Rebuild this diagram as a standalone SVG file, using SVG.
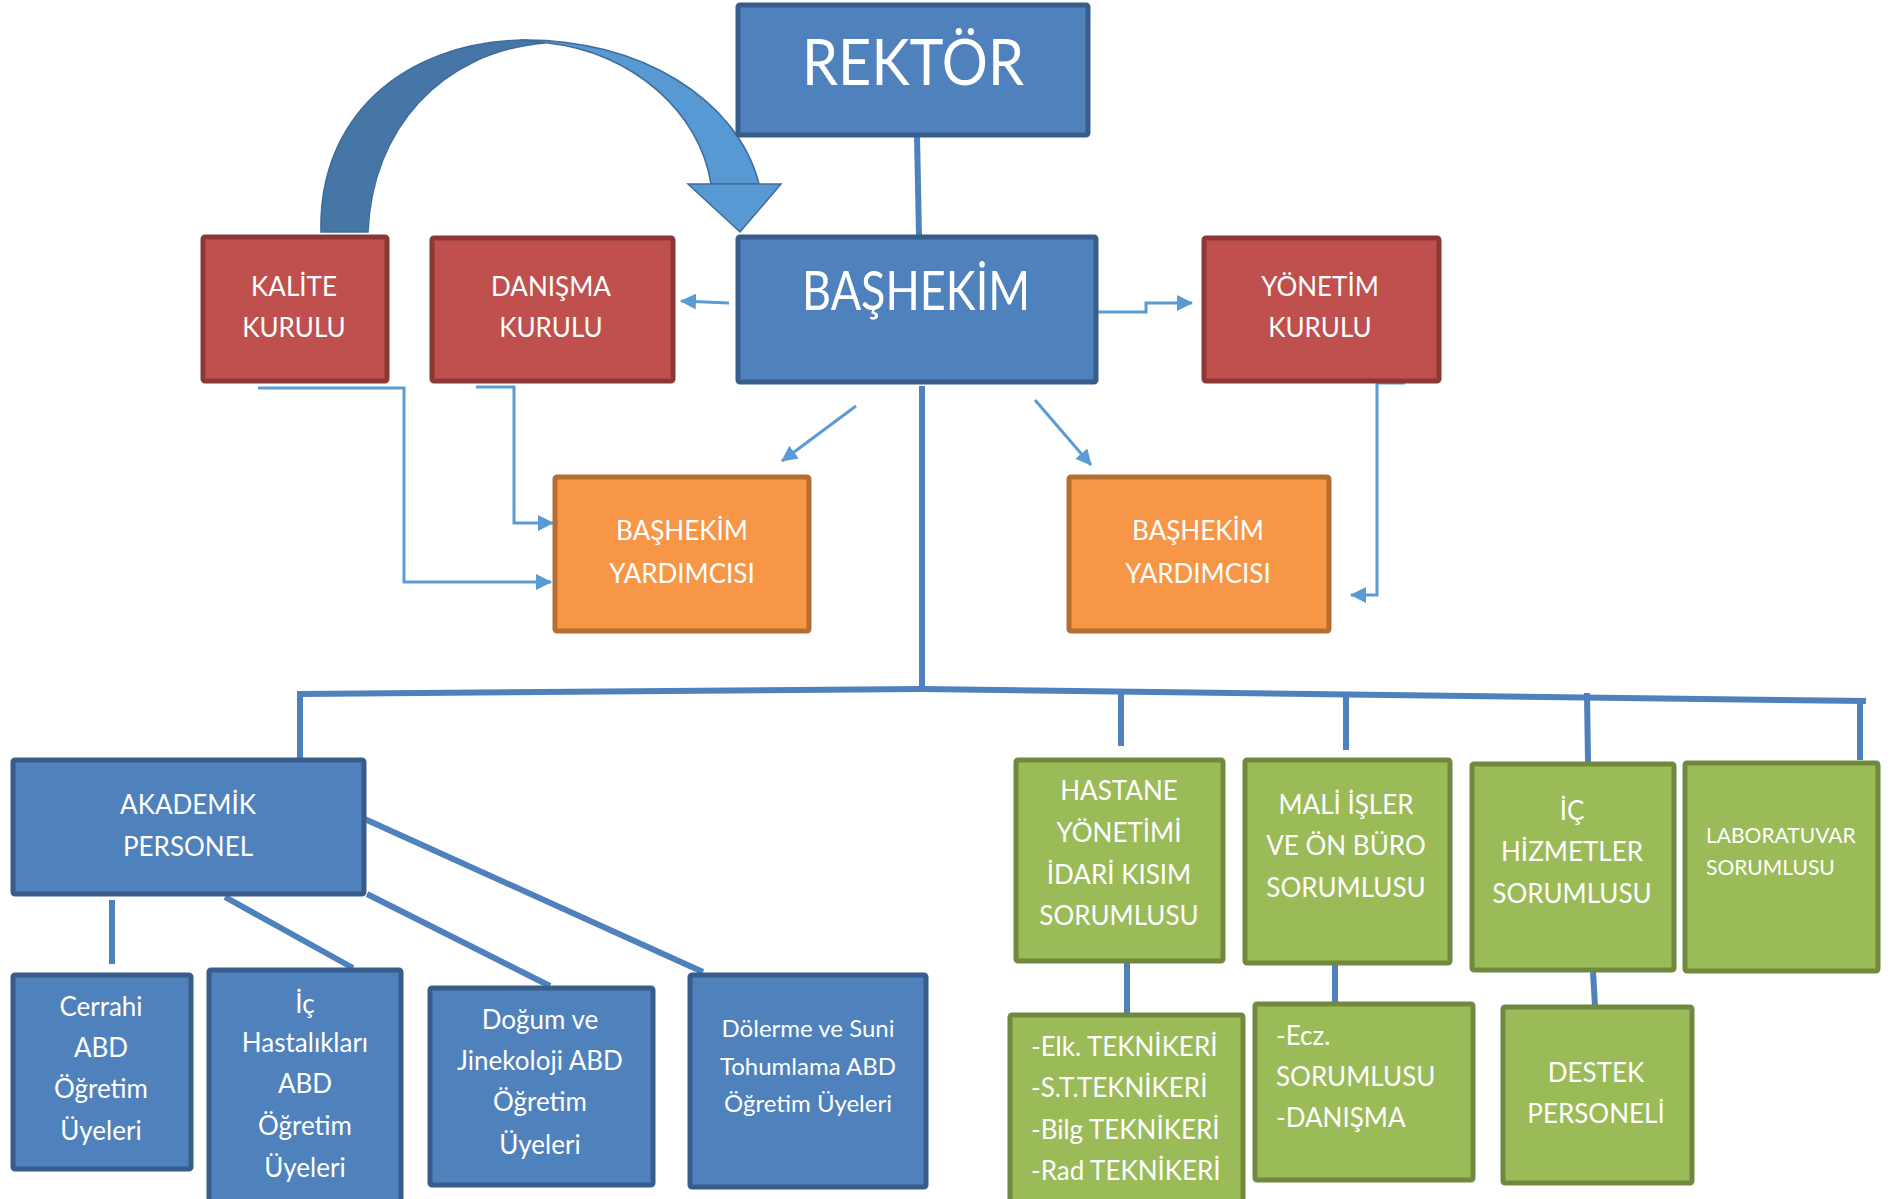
<svg xmlns="http://www.w3.org/2000/svg" width="1896" height="1199" viewBox="0 0 1896 1199">
<style>
.t{font-family:Lato,"Open Sans","Liberation Sans",sans-serif;fill:#fff;text-anchor:middle}
.s{font-size:26px}
.l{text-anchor:start}
.b{fill:#4F81BD;stroke:#385D8A;stroke-width:5}
.r{fill:#C0504D;stroke:#8C3836;stroke-width:5}
.o{fill:#F79646;stroke:#B66D31;stroke-width:5}
.g{fill:#9BBB59;stroke:#71893F;stroke-width:5}
.thick{fill:none;stroke:#4F81BD;stroke-width:6}
.thin{fill:none;stroke:#5B9BD5;stroke-width:3;marker-end:url(#ah)}
</style>
<defs>
<marker id="ah" markerUnits="userSpaceOnUse" markerWidth="18" markerHeight="18" refX="15" refY="8" orient="auto">
<path d="M0,0 L16,8 L0,16 Z" fill="#5B9BD5"/>
</marker>
</defs>
<rect width="1896" height="1199" fill="#fff"/>

<g id="connectors">
<line class="thick" x1="917" y1="135" x2="919" y2="236"/>
<line class="thick" x1="922" y1="386" x2="922" y2="689"/>
<polyline class="thick" points="300,759 300,694 922,689 1866,701"/>
<line class="thick" x1="1121" y1="694" x2="1121" y2="746"/>
<line class="thick" x1="1346" y1="696" x2="1346" y2="750"/>
<line class="thick" x1="1587" y1="693" x2="1588" y2="762"/>
<line class="thick" x1="1860" y1="701" x2="1860" y2="760"/>
<line class="thick" x1="1127" y1="961" x2="1127" y2="1013"/>
<line class="thick" x1="1335" y1="964" x2="1335" y2="1004"/>
<line class="thick" x1="1593" y1="972" x2="1595" y2="1006"/>
<line class="thick" x1="112" y1="900" x2="112" y2="964"/>
<line class="thick" x1="225" y1="897" x2="353" y2="968"/>
<line class="thick" x1="367" y1="894" x2="550" y2="986"/>
<line class="thick" x1="358" y1="816" x2="703" y2="972"/>
<line class="thin" x1="729" y1="303" x2="681" y2="301"/>
<polyline class="thin" points="1098,312 1146,312 1146,303 1192,303"/>
<polyline class="thin" points="1405,383 1377,383 1377,595 1351,595"/>
<polyline class="thin" points="258,388 404,388 404,582 551,582"/>
<polyline class="thin" points="476,387 514,387 514,523 553,523"/>
<line class="thin" x1="856" y1="406" x2="782" y2="461"/>
<line class="thin" x1="1035" y1="400" x2="1091" y2="465"/>
<path d="M321,232 C318,120 400,42 525,40 L545,43 C440,52 372,130 368,232 Z" fill="#4576A6" stroke="#3E6C9B" stroke-width="1.5"/>
<path d="M520,40 C640,38 738,100 759,184 L711,184 C700,112 632,52 548,43 Z" fill="#5799D3" stroke="#3E6C9B" stroke-width="1.5"/>
<path d="M688,184 L781,184 L740,232 Z" fill="#5799D3" stroke="#3E6C9B" stroke-width="1.5"/>
</g>

<g id="rektor"><rect class="b" x="738" y="5" width="350" height="130" rx="2"/><text class="t" x="913" y="85" font-size="64" textLength="222" lengthAdjust="spacingAndGlyphs">REKTÖR</text></g>
<g id="bashekim"><rect class="b" x="738" y="237" width="358" height="145" rx="2"/><text class="t" x="916" y="310" font-size="54" textLength="228" lengthAdjust="spacingAndGlyphs">BAŞHEKİM</text></g>
<g id="kalite"><rect class="r" x="203" y="237" width="184" height="144" rx="2"/><text class="t s" x="294" y="296">KALİTE</text><text class="t s" x="294" y="337">KURULU</text></g>
<g id="danisma"><rect class="r" x="432" y="238" width="241" height="143" rx="2"/><text class="t s" x="551" y="296">DANIŞMA</text><text class="t s" x="551" y="337">KURULU</text></g>
<g id="yonetim"><rect class="r" x="1204" y="238" width="235" height="143" rx="2"/><text class="t s" x="1320" y="296">YÖNETİM</text><text class="t s" x="1320" y="337">KURULU</text></g>
<g id="yardimci-sol"><rect class="o" x="555" y="477" width="254" height="154" rx="2"/><text class="t s" x="682" y="540">BAŞHEKİM</text><text class="t s" x="682" y="583">YARDIMCISI</text></g>
<g id="yardimci-sag"><rect class="o" x="1069" y="477" width="260" height="154" rx="2"/><text class="t s" x="1198" y="540">BAŞHEKİM</text><text class="t s" x="1198" y="583">YARDIMCISI</text></g>

<g id="akademik"><rect class="b" x="13" y="760" width="351" height="134" rx="2"/><text class="t s" x="188" y="814">AKADEMİK</text><text class="t s" x="188" y="856">PERSONEL</text></g>
<g id="cerrahi"><rect class="b" x="13" y="975" width="178" height="194" rx="2"/><text class="t s" x="101" y="1016">Cerrahi</text><text class="t s" x="101" y="1057">ABD</text><text class="t s" x="101" y="1098">Öğretim</text><text class="t s" x="101" y="1140">Üyeleri</text></g>
<g id="ic-hastaliklari"><rect class="b" x="209" y="970" width="192" height="240" rx="2"/><text class="t s" x="305" y="1013">İç</text><text class="t s" x="305" y="1052">Hastalıkları</text><text class="t s" x="305" y="1093">ABD</text><text class="t s" x="305" y="1135">Öğretim</text><text class="t s" x="305" y="1177">Üyeleri</text></g>
<g id="dogum"><rect class="b" x="430" y="988" width="223" height="197" rx="2"/><text class="t s" x="540" y="1029">Doğum ve</text><text class="t s" x="540" y="1070">Jinekoloji ABD</text><text class="t s" x="540" y="1111">Öğretim</text><text class="t s" x="540" y="1154">Üyeleri</text></g>
<g id="dolerme"><rect class="b" x="690" y="975" width="236" height="212" rx="2"/><text class="t" font-size="24" x="808" y="1037">Dölerme ve Suni</text><text class="t" font-size="24" x="808" y="1075">Tohumlama ABD</text><text class="t" font-size="24" x="808" y="1112">Öğretim Üyeleri</text></g>

<g id="hastane"><rect class="g" x="1016" y="760" width="207" height="201" rx="2"/><text class="t s" x="1119" y="800">HASTANE</text><text class="t s" x="1119" y="842">YÖNETİMİ</text><text class="t s" x="1119" y="884">İDARİ KISIM</text><text class="t s" x="1119" y="925">SORUMLUSU</text></g>
<g id="mali"><rect class="g" x="1245" y="760" width="205" height="203" rx="2"/><text class="t s" x="1346" y="814">MALİ İŞLER</text><text class="t s" x="1346" y="855">VE ÖN BÜRO</text><text class="t s" x="1346" y="897">SORUMLUSU</text></g>
<g id="ic-hizmetler"><rect class="g" x="1472" y="764" width="202" height="206" rx="2"/><text class="t s" x="1572" y="820">İÇ</text><text class="t s" x="1572" y="861">HİZMETLER</text><text class="t s" x="1572" y="903">SORUMLUSU</text></g>
<g id="laboratuvar"><rect class="g" x="1685" y="763" width="193" height="208" rx="2"/><text class="t l" font-size="21" x="1706" y="843">LABORATUVAR</text><text class="t l" font-size="21" x="1706" y="875">SORUMLUSU</text></g>
<g id="teknikerler"><rect class="g" x="1010" y="1015" width="233" height="195" rx="2"/><text class="t s l" x="1031" y="1056">-Elk. TEKNİKERİ</text><text class="t s l" x="1031" y="1097">-S.T.TEKNİKERİ</text><text class="t s l" x="1031" y="1139">-Bilg TEKNİKERİ</text><text class="t s l" x="1031" y="1180">-Rad TEKNİKERİ</text></g>
<g id="eczane"><rect class="g" x="1255" y="1004" width="218" height="176" rx="2"/><text class="t s l" x="1276" y="1045">-Ecz.</text><text class="t s l" x="1276" y="1086">SORUMLUSU</text><text class="t s l" x="1276" y="1127">-DANIŞMA</text></g>
<g id="destek"><rect class="g" x="1503" y="1007" width="189" height="176" rx="2"/><text class="t s" x="1596" y="1082">DESTEK</text><text class="t s" x="1596" y="1123">PERSONELİ</text></g>
</svg>
